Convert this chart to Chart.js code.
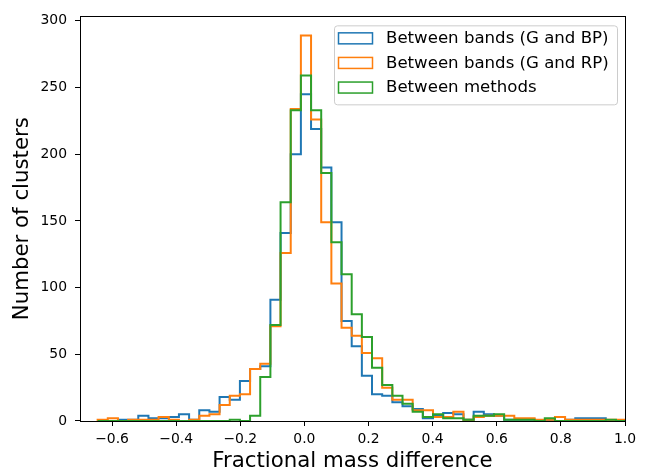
<!DOCTYPE html>
<html><head><meta charset="utf-8">
<script src="https://cdn.jsdelivr.net/npm/chart.js@4/dist/chart.umd.min.js"></script>
<style>html,body{margin:0;padding:0;background:#fff;}canvas{display:block;}</style>
</head><body>
<canvas id="c" width="651" height="473"></canvas>
<script>
// ---- data ----
const binEdges = [-0.645,-0.6133,-0.5816,-0.5499,-0.5182,-0.4865,-0.4548,-0.4231,-0.3914,-0.3597,
  -0.328,-0.2963,-0.2646,-0.2329,-0.2012,-0.1695,-0.1378,-0.1061,-0.0744,-0.0427,
  -0.011,0.0207,0.0524,0.0841,0.1158,0.1475,0.1792,0.2109,0.2426,0.2743,
  0.306,0.3377,0.3694,0.4011,0.4328,0.4645,0.4962,0.5279,0.5596,0.5913,
  0.623,0.6547,0.6864,0.7181,0.7498,0.7815,0.8132,0.8449,0.8766,0.9083,
  0.94,0.9717,1.0034];
const seriesNames = ['Between bands (G and BP)','Between bands (G and RP)','Between methods'];
const countsGBP = [0,0,1,1,4,2,2,3,5,1, 8,7,18,16,30,39,41,91,141,200, 245,219,190,149,75,56,34,20,19,14, 11,9,2,4,6,5,1,7,5,4, 1,1,1,0,0,0,1,2,2,2, 0,0];
const countsGRP = [1,2,0,1,1,1,3,1,0,1, 4,5,12,19,20,39,43,71,126,234, 289,226,149,103,70,64,51,47,25,16, 16,8,8,3,3,7,1,3,4,4, 4,2,2,1,1,3,1,1,1,1, 1,1];
const countsMethods = [0,0,0,0,0,0,0,0,0,0, 0,0,0,1,0,4,33,72,164,233, 259,233,186,134,110,80,63,40,27,19, 13,7,3,5,2,2,1,4,4,5, 1,1,1,0,2,0,0,0,0,0, 1,0];
const xTicks = [-0.6,-0.4,-0.2,0.0,0.2,0.4,0.6,0.8,1.0];
const yTicks = [0,50,100,150,200,250,300];
const xLabel = 'Fractional mass difference';
const yLabel = 'Number of clusters';

// ---- build ----
const colors = ['#1f77b4','#ff7f0e','#2ca02c'];
const FONT = '"DejaVu Sans", "Liberation Sans", sans-serif';
function stepPoints(counts){
  const pts = [{x: binEdges[0], y: 0}];
  counts.forEach((c, i) => pts.push({x: binEdges[i], y: c}));
  pts.push({x: binEdges[binEdges.length - 1], y: 0});
  return pts;
}
const fmtX = v => { const s = Number(v).toFixed(1); return v < 0 ? '\u2212' + s.slice(1) : s; };

const spines = {
  id: 'spines',
  afterDatasetsDraw(chart){
    const {ctx, chartArea: a} = chart;
    ctx.save();
    ctx.strokeStyle = '#000'; ctx.lineWidth = 1;
    ctx.strokeRect(Math.round(a.left) + 0.5, Math.round(a.top) + 0.5, Math.round(a.right - a.left), Math.round(a.bottom - a.top));
    ctx.restore();
  }
};

const legendBox = {
  id: 'legendBox',
  afterDatasetsDraw(chart){
    const {ctx, chartArea: a} = chart;
    const w = 283, h = 79;
    const x0 = a.right - 8 - w, y0 = a.top + 9;
    ctx.save();
    ctx.beginPath();
    ctx.roundRect(x0 + 0.5, y0 + 0.5, w, h, 3);
    ctx.fillStyle = 'rgba(255,255,255,0.8)';
    ctx.fill();
    ctx.strokeStyle = '#cccccc'; ctx.lineWidth = 1; ctx.stroke();
    ctx.font = '16.6px ' + FONT;
    ctx.textBaseline = 'middle';
    ctx.textAlign = 'left';
    seriesNames.forEach((name, i) => {
      const cy = y0 + 13 + i * 24.6;
      ctx.strokeStyle = colors[i]; ctx.lineWidth = 1.5;
      ctx.strokeRect(x0 + 4.5, cy - 5.5, 34, 11);
      ctx.fillStyle = '#000';
      ctx.fillText(name, x0 + 52, cy + 0.5);
    });
    ctx.restore();
  }
};

const datasets = [countsGBP, countsGRP, countsMethods].map((c, i) => ({
  label: seriesNames[i],
  data: stepPoints(c),
  borderColor: colors[i],
  backgroundColor: 'rgba(0,0,0,0)',
  borderWidth: 2,
  stepped: 'before',
  fill: false,
  pointRadius: 0,
  clip: 0,
  order: 2 - i
}));

new Chart(document.getElementById('c'), {
  type: 'line',
  data: {datasets},
  options: {
    responsive: false, animation: false, devicePixelRatio: 1,
    layout: {padding: {top: 14, right: 26, left: 0, bottom: 0}},
    plugins: {legend: {display: false}, tooltip: {enabled: false}},
    scales: {
      x: {
        type: 'linear', min: -0.7, max: 1.0,
        afterBuildTicks: s => { s.ticks = xTicks.map(v => ({value: v})); },
        afterFit: s => { s.height = 52; },
        ticks: {callback: v => fmtX(v), font: {family: FONT, size: 13.9}, color: '#000', padding: 5, maxRotation: 0, autoSkip: false},
        grid: {display: true, drawOnChartArea: false, drawTicks: true, tickLength: 5, color: '#000', tickColor: '#000'},
        border: {display: false},
        title: {display: true, text: xLabel, font: {family: FONT, size: 21.3, lineHeight: 1.06}, color: '#000', padding: {top: 0, bottom: 0}}
      },
      y: {
        type: 'linear', min: 0, max: 303.4,
        afterBuildTicks: s => { s.ticks = yTicks.map(v => ({value: v})); },
        afterFit: s => { s.width = 80; },
        ticks: {callback: v => String(v), font: {family: FONT, size: 13.9}, color: '#000', padding: 8, autoSkip: false},
        grid: {display: true, drawOnChartArea: false, drawTicks: true, tickLength: 5, color: '#000', tickColor: '#000'},
        border: {display: false},
        title: {display: true, text: yLabel, font: {family: FONT, size: 21.3}, color: '#000', padding: {top: 10, bottom: 0}}
      }
    }
  },
  plugins: [spines, legendBox]
});
</script>
</body></html>
